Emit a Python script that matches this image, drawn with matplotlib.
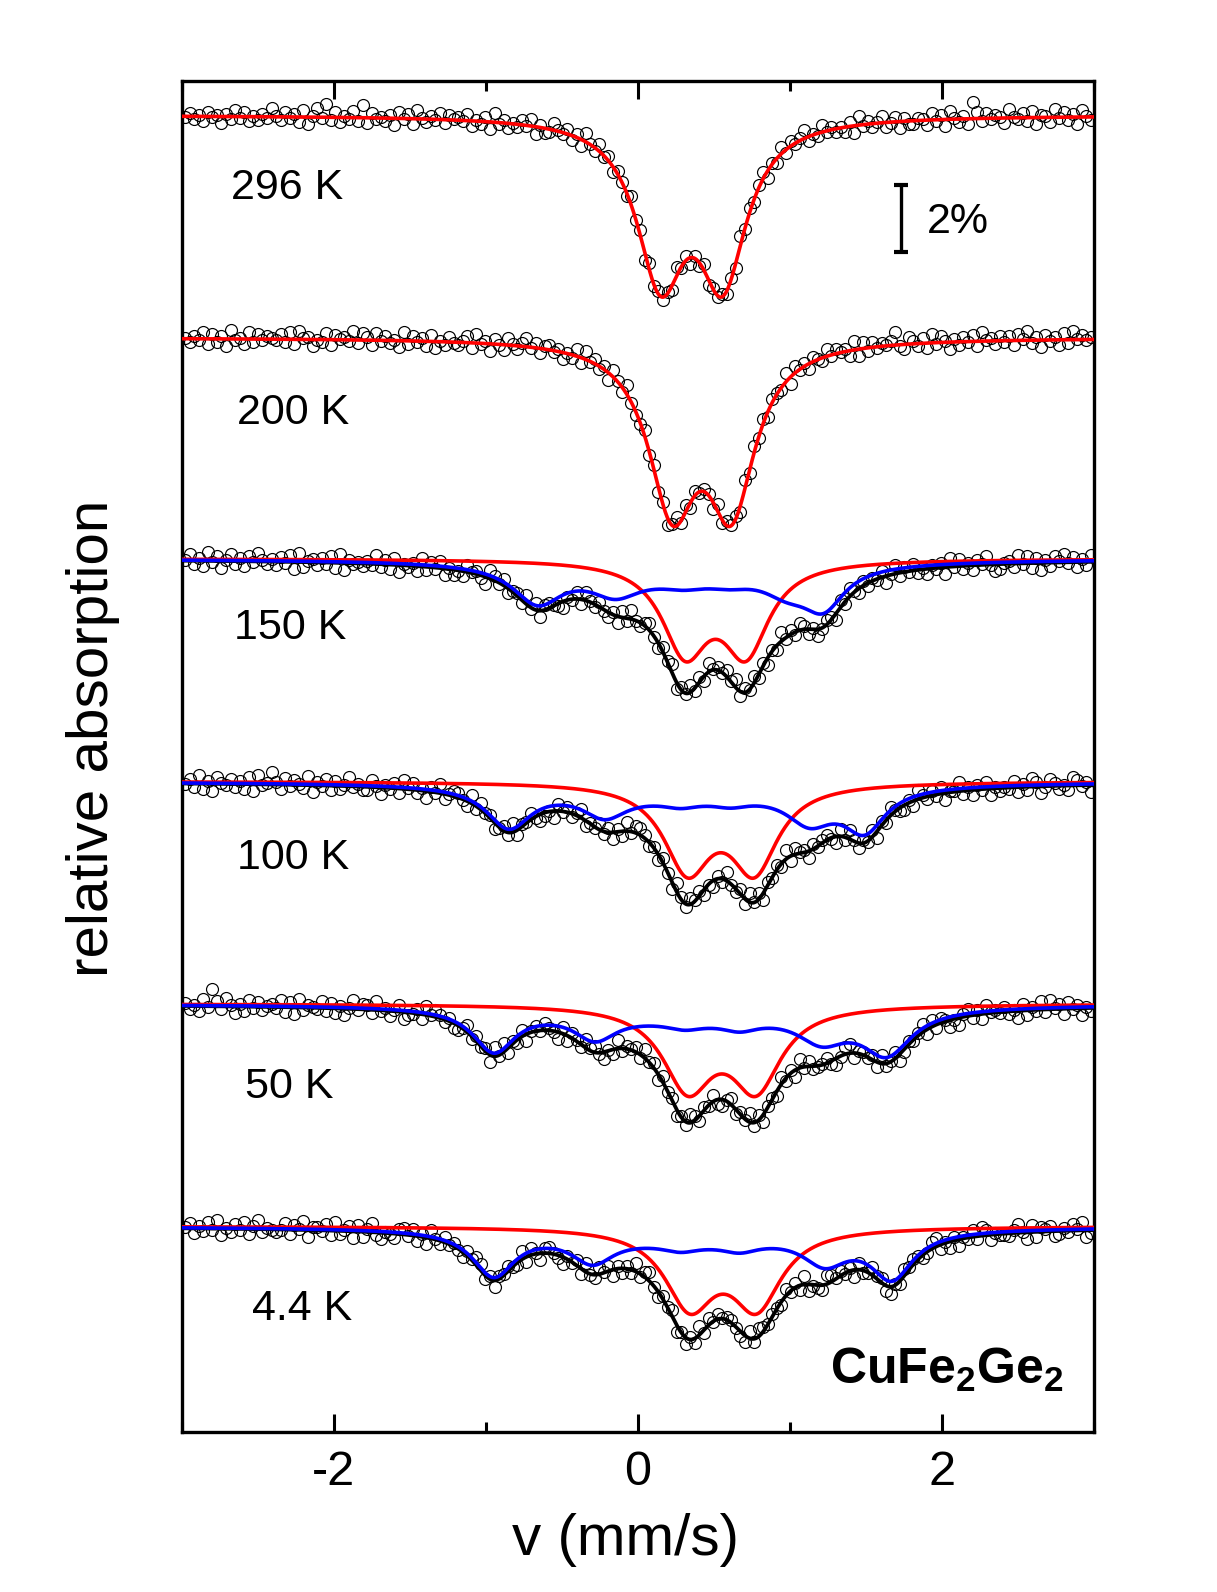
import numpy as np
import matplotlib
matplotlib.use('Agg')
import matplotlib.pyplot as plt
from matplotlib.ticker import MultipleLocator

plt.rcParams['font.family'] = ['Liberation Sans', 'DejaVu Sans']
plt.rcParams['mathtext.fontset'] = 'custom'
plt.rcParams['mathtext.rm'] = 'Liberation Sans'
plt.rcParams['mathtext.bf'] = 'Liberation Sans:bold'
plt.rcParams['axes.unicode_minus'] = False

# ---------------- data ----------------
temps = ['296 K', '200 K', '150 K', '100 K', '50 K', '4.4 K']
offsets = [0.04, -6.58, -13.16, -19.79, -26.41, -33.03]      # baseline of each spectrum (%)

# paramagnetic doublet (red): centre shift, half splitting, HWHM (mm/s), line depth (%)
dbl_center = [0.353, 0.42, 0.51, 0.545, 0.552, 0.56]
dbl_half = [0.205, 0.195, 0.20, 0.22, 0.225, 0.22]
dbl_hwhm = [0.19, 0.19, 0.185, 0.19, 0.20, 0.20]
dbl_depth = [4.58, 4.69, 2.60, 2.48, 2.36, 2.23]

# magnetic sextet (blue): six line positions, HWHM, depths
sxt_pos = {
    '150 K': [-0.66, -0.15, 0.30, 0.60, 0.98, 1.22],
    '100 K': [-0.85, -0.22, 0.28, 0.61, 1.13, 1.49],
    '50 K': [-0.947, -0.283, 0.307, 0.67, 1.21, 1.636],
    '4.4 K': [-0.95, -0.30, 0.28, 0.67, 1.23, 1.67],
}
sxt_hwhm = {
    '150 K': [0.20, 0.20, 0.18, 0.18, 0.20, 0.17],
    '100 K': [0.18, 0.18, 0.15, 0.15, 0.19, 0.17],
    '50 K': [0.17, 0.17, 0.15, 0.15, 0.20, 0.20],
    '4.4 K': [0.17, 0.17, 0.15, 0.15, 0.18, 0.17],
}
sxt_depth = {
    '150 K': [1.10, 0.65, 0.20, 0.20, 0.58, 1.15],
    '100 K': [1.20, 0.70, 0.196, 0.196, 0.91, 1.23],
    '50 K': [1.27, 0.74, 0.20, 0.27, 0.80, 1.30],
    '4.4 K': [1.33, 0.775, 0.21, 0.26, 0.835, 1.368],
}
# broad hyperfine-field distribution underlying the sextet: centre, HWHM, depth
dist_center = {'150 K': 0.30, '100 K': 0.32, '50 K': 0.345, '4.4 K': 0.36}
dist_hwhm = {'150 K': 0.80, '100 K': 0.90, '50 K': 0.90, '4.4 K': 0.90}
dist_depth = {'150 K': 0.45, '100 K': 0.40, '50 K': 0.40, '4.4 K': 0.40}

residuals = {
    '296 K': "46352745163847253649" "53746281594A3725483A" "27453618472953648375"
             "64825371946253748162" "38547261953847265394" "71846352947163825463"
             "52947368152837469253" "84635271946358247163" "3652847195362B837465"
             "29547381652947361853",
    '200 K': "53648273619452837465" "47382956143827564938" "62847351937462815374"
             "35829461742853694726" "74615382947361852943" "48372615938274651837"
             "56193847265391846275" "3847562918374657A428" "63729485163748295637"
             "47285936174628395746",
    '150 K': "58362947158362749536" "37481925637482916453" "64937281546293748152"
             "42856319748256394817" "75316482953742618394" "36842759164837295648"
             "59274836152947386251" "47618395273648159374" "83526471948362759412"
             "56394827163859472638",
    '100 K': "4739261854736281945A" "62847539164827359463" "38516472958361749257"
             "74293856147392658413" "51847369254837162948" "86352741963857241639"
             "43729581647392856174" "67418395264817395326" "29637481559362748153"
             "54826397148635297461",
    '50 K': "635284B7395162847356" "48271936548372615947" "73946258134729586362"
            "25837461949263815748" "64182753968415293657" "39572846153972648215"
            "82649371552836194734" "57314892664729358136" "46928375141683729564"
            "73518264939572846153",
    '4.4 K': "57263849153748269354" "34827591664829357182" "69315427848261953746"
             "42759836165743928517" "85316472943857162639" "37942658151629384756"
             "64218397565384729143" "29857461834967215386" "76348925161548397254"
             "43695182767236485913",
}
resid_step = 0.058
resid_special = {'A': 0.38, 'B': 0.50}

label_pos_v = [-2.675, -2.641, -2.661, -2.641, -2.588, -2.541]
label_center_y = [-1.99, -8.70, -15.10, -21.93, -28.76, -35.37]


def lor(v, p, g, a):
    return a * g ** 2 / ((v - p) ** 2 + g ** 2)


def decode(s):
    out = []
    for ch in s:
        if ch.isdigit():
            out.append((int(ch) - 4.5) * resid_step)
        else:
            out.append(resid_special[ch])
    return np.array(out)


# ---------------- figure ----------------
W, H = 1217, 1592
fig = plt.figure(figsize=(W / 100, H / 100), dpi=100)
ax = fig.add_axes([182 / W, 1 - 1432 / H, (1094 - 182) / W, (1432 - 80.7) / H])

vf = np.linspace(-3, 3, 1501)

for i, t in enumerate(temps):
    off = offsets[i]
    c, d, g, a = dbl_center[i], dbl_half[i], dbl_hwhm[i], dbl_depth[i]
    red = lor(vf, c - d, g, a) + lor(vf, c + d, g, a)
    total = red.copy()
    blue = None
    if t in sxt_pos:
        blue = lor(vf, dist_center[t], dist_hwhm[t], dist_depth[t])
        for p, gw, aa in zip(sxt_pos[t], sxt_hwhm[t], sxt_depth[t]):
            blue = blue + lor(vf, p, gw, aa)
        total = red + blue

    r = decode(residuals[t])
    vch = np.linspace(-2.98, 2.98, len(r))
    model_ch = np.interp(vch, vf, total)
    ax.plot(vch, off - model_ch + r, 'o', ms=8.6, mfc='none', mec='black',
            mew=0.85, zorder=2)

    if blue is not None:
        ax.plot(vf, off - total, color='black', lw=2.7, zorder=3)
        ax.plot(vf, off - red, color='#ff0000', lw=2.6, zorder=4)
        ax.plot(vf, off - blue, color='#0000ff', lw=2.6, zorder=5)
    else:
        ax.plot(vf, off - red, color='#ff0000', lw=2.6, zorder=4)

    ax.text(label_pos_v[i], label_center_y[i] - 0.45, t, fontsize=31,
            ha='left', va='baseline')

# scale bar (2 %)
sb_v = 1.732
ax.plot([sb_v, sb_v], [-2.02, -4.02], color='black', lw=2.4,
        solid_capstyle='butt', zorder=6)
ax.plot([sb_v, sb_v], [-2.02, -4.02], ls='none', marker='_', ms=10,
        mew=3.0, color='black', zorder=6)
ax.text(1.90, -3.46, '2%', fontsize=31, ha='left', va='baseline')

ax.text(2.80, -37.73, r'$\mathbf{CuFe_{2}Ge_{2}}$', fontsize=36,
        ha='right', va='baseline')

ax.set_xlim(-3, 3)
ax.set_ylim(-39.15, 1.07)
ax.set_xticks([-2, 0, 2])
ax.xaxis.set_minor_locator(MultipleLocator(1))
ax.set_yticks([])
ax.tick_params(axis='x', which='major', direction='in', top=True,
               length=13, width=2.2, labelsize=35, pad=13)
ax.tick_params(axis='x', which='minor', direction='in', top=True,
               length=7, width=2.2)
for sp in ax.spines.values():
    sp.set_linewidth(2.4)

fig.text(626 / W, 1 - 1540 / H, 'v (mm/s)', fontsize=42, ha='center', va='center')
fig.text(93 / W, 1 - 738.4 / H, 'relative absorption', fontsize=42,
         rotation=90, ha='center', va='center')

fig.savefig('out.png', dpi=100)
